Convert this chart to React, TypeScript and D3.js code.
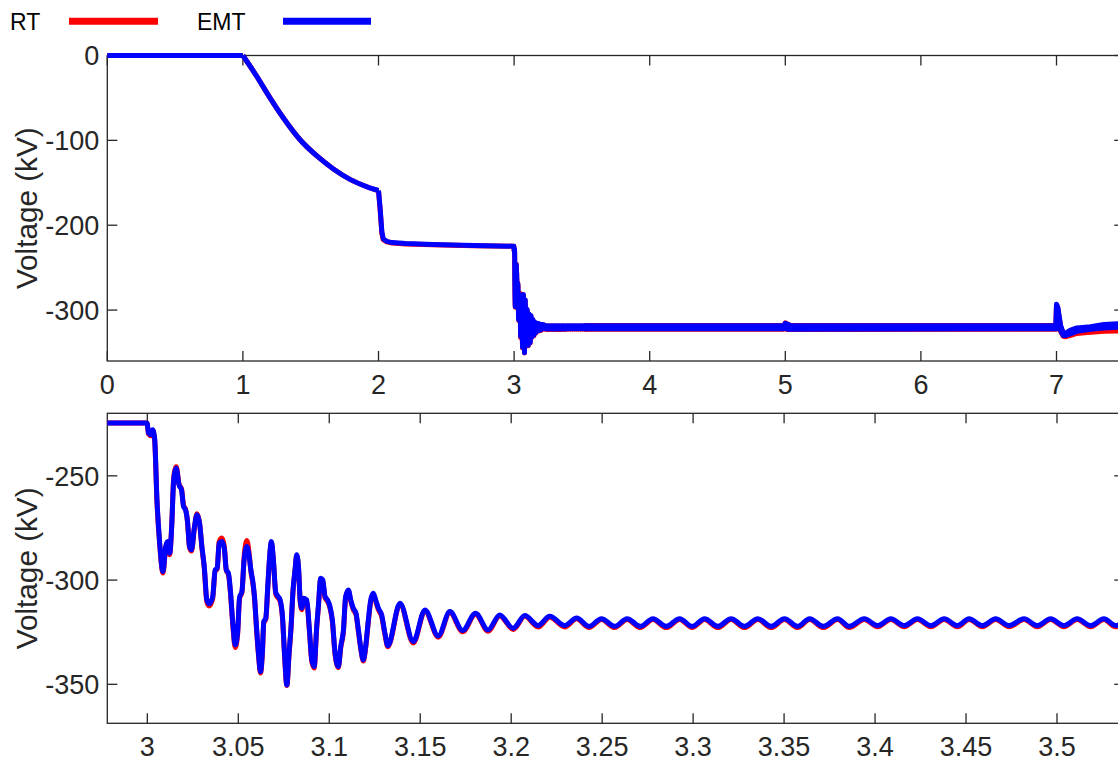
import React from 'react';
import * as d3 from 'd3';

// ---------- legend / styling categories ----------
const seriesNames = ['RT', 'EMT'];
const seriesColors = ['#ff0000', '#0000ff'];

// ---------- tick labels ----------
const topXTicks = [0, 1, 2, 3, 4, 5, 6, 7];
const topYTicks = [0, -100, -200, -300];
const botXTicks = [3, 3.05, 3.1, 3.15, 3.2, 3.25, 3.3, 3.35, 3.4, 3.45, 3.5];
const botYTicks = [-250, -300, -350];

// ---------- top plot: flat start (0 .. 1 s) ----------
const flatT = [0, 1.0];
const flatV = [0, 0];

// ---------- top plot: charging curve (1 .. 2 s) ----------
const curveT = [1.0, 1.1, 1.2, 1.3, 1.42, 1.55, 1.67, 1.79, 1.92, 2.0];
const curveEMT = [0, -24, -50, -74, -99, -119, -134, -146, -155, -159];
const curveRT = [0, -24, -50, -74, -99, -119, -134, -146, -155, -159.5];

// ---------- top plot: step and plateau (2 .. 3 s) ----------
const stepT = [2.0, 2.012, 2.025, 2.035, 2.06, 2.1, 2.2, 2.4, 2.7, 2.998];
const stepEMT = [-159, -180, -208, -216, -219, -220.5, -221.5, -222.7, -224, -224.7];
const stepRT = [-159.5, -182, -210, -217, -219.5, -221, -222, -223, -224.3, -224.7];

// ---------- zoomed transient (3.0 .. 3.54 s) ----------
const botT = [
  2.978, 2.9998, 3.0007, 3.0020, 3.0029, 3.0040, 3.0053, 3.0068, 3.0086, 3.0101,
  3.0112, 3.0123, 3.0134, 3.0145, 3.0159, 3.0174, 3.0188, 3.0199, 3.0210, 3.0221,
  3.0232, 3.0243, 3.0258, 3.0273, 3.0287, 3.0300, 3.0313, 3.0327, 3.0340, 3.0359,
  3.0373, 3.0384, 3.0395, 3.0410, 3.0423, 3.0434, 3.0446, 3.0457, 3.0470, 3.0483,
  3.0496, 3.0507, 3.0520, 3.0532, 3.0547, 3.0560, 3.0569, 3.0580, 3.0589, 3.0600,
  3.0611, 3.0622, 3.0633, 3.0640, 3.0651, 3.0662, 3.0671, 3.0682, 3.0693, 3.0706,
  3.0719, 3.0730, 3.0743, 3.0754, 3.0767, 3.0779, 3.0790, 3.0801, 3.0812, 3.0821,
  3.0832, 3.0840, 3.0849, 3.0860, 3.0876, 3.0891, 3.0904, 3.0917, 3.0931, 3.0940,
  3.0953, 3.0964, 3.0977, 3.0990, 3.1004, 3.1017, 3.1032, 3.1050, 3.1063, 3.1078,
  3.1090, 3.1105, 3.1118, 3.1132, 3.1147, 3.1160, 3.1175, 3.1187, 3.1200, 3.1215,
  3.1228, 3.1242, 3.1255, 3.1270, 3.1288, 3.1306, 3.1322, 3.1389, 3.1462, 3.1526,
  3.1599, 3.1663, 3.1733, 3.1804, 3.1873, 3.1937, 3.2011, 3.2075, 3.2148, 3.2212,
  3.2294, 3.2360, 3.2428, 3.2496, 3.2569, 3.2637, 3.2710, 3.2779, 3.2852, 3.2926,
  3.2995, 3.3063, 3.3136, 3.3209, 3.3282, 3.3356, 3.3429, 3.3502, 3.3575, 3.3640,
  3.3716, 3.3794, 3.3858, 3.3941, 3.4014, 3.4087, 3.4160, 3.4233, 3.4307, 3.4380,
  3.4453, 3.4517, 3.4590, 3.4663, 3.4737, 3.4819, 3.4892, 3.4965, 3.5038, 3.5111,
  3.5185, 3.5258, 3.5322, 3.537,
];
const botEMT = [
  -224.7, -224.7, -229.5, -230.3, -227.9, -231.9, -261.5, -282.3, -295.9, -283.9,
  -281.5, -287.1, -274.3, -251.9, -246.3, -254.3, -256.7, -264.7, -266.3, -271.9,
  -283.9, -285.5, -275.1, -268.7, -272.7, -283.9, -293.5, -309.5, -311.4, -308.2,
  -295.1, -294.3, -282.3, -281.5, -284.7, -295.1, -296.7, -305.5, -320.7, -331.1,
  -325.5, -308.2, -305.5, -290.3, -283.9, -288.7, -295.1, -300.7, -307.9, -322.3,
  -335.1, -343.9, -333.5, -319.9, -318.3, -303.1, -290.3, -281.5, -290.3, -306.0,
  -307.9, -309.5, -317.5, -335.1, -350.3, -335.1, -322.3, -304.7, -295.1, -287.9,
  -295.1, -309.5, -313.5, -308.7, -309.5, -323.9, -338.3, -341.5, -322.3, -312.7,
  -299.1, -299.9, -307.9, -309.5, -312.7, -319.1, -335.1, -341.5, -331.9, -323.9,
  -307.9, -304.7, -309.5, -313.5, -315.9, -323.9, -333.5, -338.3, -331.9, -319.1,
  -309.5, -306.3, -309.5, -313.5, -316.7, -325.5, -331.5, -311.1, -329.5, -314.3,
  -326.8, -315.1, -324.2, -315.9, -323.9, -316.7, -323.1, -317.0, -321.8, -317.4,
  -321.8, -318.2, -322.2, -318.5, -322.2, -318.5, -322.2, -318.5, -322.2, -318.5,
  -322.2, -318.5, -322.2, -318.5, -322.2, -318.5, -322.2, -318.5, -322.2, -318.5,
  -322.2, -318.5, -322.2, -318.6, -321.8, -318.6, -321.8, -318.6, -321.8, -318.6,
  -321.8, -318.6, -321.8, -318.6, -321.8, -318.6, -321.8, -318.6, -321.8, -318.6,
  -321.8, -318.6, -321.8, -320.2,
];
const botRT = [
  -224.7, -224.7, -230.0, -230.8, -228.3, -232.4, -262.5, -283.0, -296.6, -284.6,
  -282.2, -287.8, -274.0, -251.0, -245.6, -253.8, -256.4, -264.2, -266.0, -272.4,
  -284.4, -286.1, -275.6, -268.2, -272.4, -284.6, -294.3, -310.4, -312.4, -309.0,
  -295.6, -294.8, -281.6, -279.8, -283.8, -295.4, -297.4, -306.4, -321.8, -332.4,
  -326.4, -308.8, -306.0, -289.0, -281.0, -287.4, -295.6, -301.6, -308.6, -323.4,
  -336.0, -344.6, -334.4, -320.6, -318.8, -303.8, -290.8, -282.0, -290.8, -306.8,
  -308.6, -310.2, -318.4, -335.6, -350.6, -335.8, -323.0, -305.2, -295.4, -288.2,
  -295.8, -310.2, -314.2, -309.4, -310.2, -324.6, -339.0, -342.2, -323.0, -313.2,
  -299.6, -300.4, -308.6, -310.2, -313.4, -319.8, -335.8, -342.0, -332.6, -324.6,
  -308.6, -305.2, -310.0, -314.2, -316.6, -324.6, -334.0, -338.8, -332.6, -319.8,
  -310.2, -306.8, -310.0, -314.2, -317.4, -326.2, -332.0, -311.6, -330.2, -314.8,
  -327.4, -315.6, -324.8, -316.4, -324.5, -317.2, -323.7, -317.4, -322.5, -317.8,
  -322.5, -318.6, -322.8, -318.9, -322.8, -318.9, -322.8, -318.9, -322.8, -318.9,
  -322.8, -318.9, -322.8, -318.9, -322.8, -318.9, -322.8, -318.9, -322.8, -318.9,
  -322.8, -318.9, -322.8, -318.9, -322.4, -318.9, -322.4, -318.9, -322.4, -318.9,
  -322.4, -318.9, -322.4, -318.9, -322.4, -318.9, -322.4, -318.9, -322.4, -318.9,
  -322.4, -318.9, -322.4, -320.6,
];

// ---------- top plot: steady ripple band (3.53 .. 7.5 s), upper/lower envelope ----------
const bandT = [3.53, 4.99, 5.0, 5.015, 5.04, 6.995, 7.0, 7.01, 7.03, 7.05, 7.065, 7.1, 7.15, 7.25, 7.35, 7.5];
const bandEMTHi = [-318.5, -318.5, -315.5, -316.5, -318.5, -318.5, -293, -297, -318, -327, -327.5, -324, -321, -319.5, -317, -315.5];
const bandEMTLo = [-322, -322, -321, -322.5, -322.5, -322, -322, -308, -324, -330, -330, -328, -325, -322.5, -321, -320];
const bandRTHi = [-318.3, -318.3, -315, -316.5, -318.3, -318.3, -294, -298, -319, -328, -328.5, -325.5, -322.5, -321, -318.5, -317];
const bandRTLo = [-322.5, -322.5, -321.5, -323, -323, -322.5, -322.5, -309, -325, -331, -331.5, -330, -327.5, -326, -325, -324.5];

const FONT = "'Liberation Sans', Arial, Helvetica, sans-serif";
const AX = '#262626';

type Pt = [number, number];

function Axes(props: {
  x: d3.ScaleLinear<number, number>;
  y: d3.ScaleLinear<number, number>;
  xTicks: number[];
  yTicks: number[];
  fmtX: (v: number) => string;
}) {
  const { x, y, xTicks, yTicks, fmtX } = props;
  const [x0, x1] = x.range();
  const [yb, yt] = y.range();
  const tl = 10;
  return (
    <g>
      <rect x={x0} y={yt} width={x1 - x0} height={yb - yt} fill="none" stroke={AX} strokeWidth={1.3} />
      {xTicks.map((t) => (
        <g key={'x' + t}>
          <line x1={x(t)} x2={x(t)} y1={yb} y2={yb - tl} stroke={AX} strokeWidth={1.3} />
          <line x1={x(t)} x2={x(t)} y1={yt} y2={yt + tl} stroke={AX} strokeWidth={1.3} />
          <text x={x(t)} y={yb + 33} textAnchor="middle" fontFamily={FONT} fontSize={27} fill={AX}>
            {fmtX(t)}
          </text>
        </g>
      ))}
      {yTicks.map((v) => (
        <g key={'y' + v}>
          <line x1={x0} x2={x0 + tl} y1={y(v)} y2={y(v)} stroke={AX} strokeWidth={1.3} />
          <line x1={x1} x2={x1 - tl} y1={y(v)} y2={y(v)} stroke={AX} strokeWidth={1.3} />
          <text x={x0 - 8} y={y(v) + 9.7} textAnchor="end" fontFamily={FONT} fontSize={27} fill={AX}>
            {String(v)}
          </text>
        </g>
      ))}
      <text
        transform={`translate(37,${(yb + yt) / 2}) rotate(-90)`}
        textAnchor="middle"
        fontFamily={FONT}
        fontSize={29.7}
        fill={AX}
      >
        Voltage (kV)
      </text>
    </g>
  );
}

export default function App() {
  const W = 1118;
  const H = 761;
  const left = 107.3;
  const right = 1124.3;

  // top plot scales
  const xTop = d3.scaleLinear().domain([0, 7.5]).range([left, right]);
  const yTop = d3.scaleLinear().domain([-360, 0]).range([361, 55.5]);
  // bottom plot scales
  const xBot = d3.scaleLinear().domain([2.978, 3.537]).range([left, right]);
  const yBot = d3.scaleLinear().domain([-368.7, -220]).range([723.3, 413.3]);

  const topLine = d3.line<Pt>().x((d) => xTop(d[0])).y((d) => yTop(d[1]));
  const topCurve = d3
    .line<Pt>()
    .x((d) => xTop(d[0]))
    .y((d) => yTop(d[1]))
    .curve(d3.curveMonotoneX);
  const botLine = d3
    .line<Pt>()
    .x((d) => xBot(d[0]))
    .y((d) => yBot(d[1]))
    .curve(d3.curveMonotoneX);

  const zip = (ts: number[], vs: number[]) => ts.map((t, i) => [t, vs[i]] as Pt);

  const topSeries = [
    { curve: curveRT, step: stepRT, bot: botRT, hi: bandRTHi, lo: bandRTLo },
    { curve: curveEMT, step: stepEMT, bot: botEMT, hi: bandEMTHi, lo: bandEMTLo },
  ].map((s) => {
    const flat = topLine(zip(flatT, flatV)) || '';
    const curve = topCurve(zip(curveT, s.curve)) || '';
    const rest: Pt[] = zip(stepT, s.step);
    botT.forEach((t, i) => {
      if (t >= 3.0) rest.push([t, s.bot[i]]);
    });
    const band =
      d3
        .area<number>()
        .x((i) => xTop(bandT[i]))
        .y0((i) => yTop(s.lo[i]))
        .y1((i) => yTop(s.hi[i]))(bandT.map((_, i) => i)) || '';
    return { flat, curve, rest: topLine(rest) || '', band };
  });

  const botSeries = [botRT, botEMT].map((vals) => zip(botT, vals));

  const legendX = [
    { tx: 10, lx1: 69, lx2: 158 },
    { tx: 197, lx1: 283, lx2: 371 },
  ];

  const lw = 5;

  return (
    <svg
      width={W}
      height={H}
      viewBox={`0 0 ${W} ${H}`}
      style={{ position: 'absolute', left: 0, top: 0, background: '#fff' }}
    >
      <rect x={0} y={0} width={W} height={H} fill="#fff" />

      {/* legend */}
      {seriesNames.map((n, i) => (
        <g key={n}>
          <text x={legendX[i].tx} y={29.5} fontFamily={FONT} fontSize={23} fill="#000">
            {n}
          </text>
          <line
            x1={legendX[i].lx1}
            x2={legendX[i].lx2}
            y1={21.3}
            y2={21.3}
            stroke={seriesColors[i]}
            strokeWidth={7}
          />
        </g>
      ))}

      {/* top plot */}
      <Axes x={xTop} y={yTop} xTicks={topXTicks} yTicks={topYTicks} fmtX={(v) => String(v)} />
      {topSeries.map((p, s) => (
        <g key={'top' + s} stroke={seriesColors[s]} strokeWidth={lw} strokeLinejoin="round">
          <path d={p.band} fill={seriesColors[s]} />
          <path d={p.flat} fill="none" />
          <path d={p.curve} fill="none" />
          <path d={p.rest} fill="none" />
        </g>
      ))}

      {/* bottom plot */}
      <Axes
        x={xBot}
        y={yBot}
        xTicks={botXTicks}
        yTicks={botYTicks}
        fmtX={(v) => String(+v.toFixed(2))}
      />
      {botSeries.map((pts, s) => (
        <path
          key={'bot' + s}
          d={botLine(pts) || ''}
          fill="none"
          stroke={seriesColors[s]}
          strokeWidth={lw}
          strokeLinejoin="round"
        />
      ))}
    </svg>
  );
}
